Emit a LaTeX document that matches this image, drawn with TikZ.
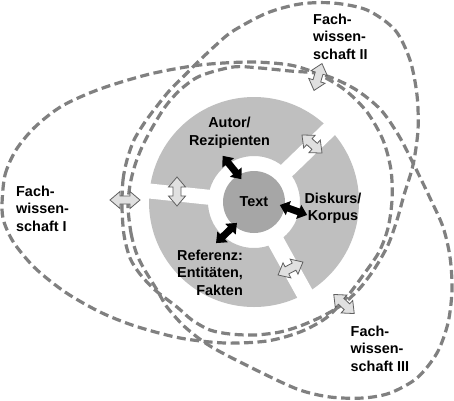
\documentclass[tikz,border=0pt]{standalone}
\usepackage{fontspec}
\setmainfont{Liberation Sans}
\usetikzlibrary{calc}
\definecolor{dashgray}{RGB}{128,128,128}
\definecolor{ringgray}{RGB}{191,191,191}
\definecolor{textgray}{RGB}{166,166,166}
\definecolor{arrowfill}{RGB}{224,224,224}
\definecolor{arrowline}{RGB}{96,96,96}
\tikzset{
  pics/dbl/.style n args={5}{code={%
    \path[#5] (-#1,0) -- ({-#1+#4},#2) -- ({-#1+#4},#3) -- ({#1-#4},#3) -- ({#1-#4},#2) -- (#1,0)
      -- ({#1-#4},-#2) -- ({#1-#4},-#3) -- ({-#1+#4},-#3) -- ({-#1+#4},-#2) -- cycle;}},
}
\begin{document}
\begin{tikzpicture}[x=1pt,y=-1pt,
  fw/.style={draw=dashgray, line width=3.2pt, dash pattern=on 9pt off 4.5pt},
  lbl/.style={font=\fontsize{14.4pt}{17.5pt}\selectfont\bfseries, inner sep=0pt},
  garrow/.style={draw=arrowline, fill=arrowfill, line width=0.8pt, line join=miter},
  barrow/.style={fill=black},
]
\useasboundingbox[fill=white] (0,0) rectangle (454,400);
\coordinate (c) at (254,202);
% ring with three gaps
\fill[ringgray, even odd rule] (c) circle[radius=105pt] (c) circle[radius=46pt];
\draw[white, line width=16pt] ($(c)+(44:40pt)$) -- ($(c)+(44:112pt)$);
\draw[white, line width=15pt] ($(c)+(174:40pt)$) -- ($(c)+(174:112pt)$);
\draw[white, line width=17pt] ($(c)+(-61:40pt)$) -- ($(c)+(-61:112pt)$);
\node[circle, fill=textgray, minimum size=62pt, inner sep=0pt, lbl] (text) at (c) {Text};
% Fachwissenschaft I
\draw[fw] plot[smooth cycle] coordinates {(2,205) (5,175) (16,150) (35,127) (62,106) (100,89) (150,74) (200,65) (250,62) (290,65) (318,74) (345,90) (367,112) (383,140) (391,170) (392,200) (388,228) (379,252) (364,274) (346,298) (326,318) (300,332) (267,341) (225,343) (180,338) (135,326) (100,312) (65,292) (35,268) (14,243) (4,222)};
% Fachwissenschaft II
\draw[fw] plot[smooth cycle] coordinates {(122,207) (123,180) (127,160) (134,140) (145,122) (157,106) (170,90) (185,75) (200,60) (216,45) (233,31) (267,13) (300,4) (333,3) (367,10) (395,30) (410,60) (417,95) (418,130) (413,165) (404,195) (397,220) (388,245) (375,268) (360,288) (343,304) (323,316) (300,326) (280,332) (255,335) (230,334) (210,330) (192,320) (177,307) (155,290) (140,274) (130,258) (124,235)};
% Fachwissenschaft III
\draw[fw] plot[smooth cycle] coordinates {(128,207) (131,233) (136,252) (143,267) (157,290) (167,307) (185,327) (210,346) (250,367) (297,389) (330,397) (363,398) (390,393) (417,378) (437,353) (448,323) (452,290) (450,257) (443,227) (430,198) (414,165) (399,136) (381,110) (358,91) (335,79) (315,73) (290,71) (260,68) (233,67) (200,76) (180,90) (165,107) (152,128) (142,147) (135,165) (130,185)};
% arrows between the fields
\pic (aI) at (125,200) {dbl={15}{8.5}{4}{10}{garrow}};
\pic[rotate=73.5] (aII) at (318,77) {dbl={14}{8.5}{4}{10}{garrow}};
\pic[rotate=-43] (aIII) at (344,304) {dbl={14}{8.5}{4}{10}{garrow}};
% arrows across the ring gaps
\pic[rotate=-42] (g1) at (312,144) {dbl={13.5}{8.5}{4}{10}{garrow}};
\pic[rotate=90] (g2) at (177,191.5) {dbl={14.5}{8.5}{4}{10}{garrow}};
\pic[rotate=27.5] (g3) at (290.5,268.5) {dbl={14}{8.5}{4}{10}{garrow}};
% black arrows to the text
\pic[rotate=-51] (b1) at (232,167.5) {dbl={15}{7.5}{3.5}{9}{barrow}};
\pic[rotate=-20] (b2) at (293.5,210) {dbl={14.5}{7.5}{3.5}{9}{barrow}};
\pic[rotate=44] (b3) at (226.5,233) {dbl={14.5}{7.5}{3.5}{9}{barrow}};
% labels
\node[lbl, align=left, anchor=north west] (fw2) at (313,13.5) {Fach-\\wissen-\\schaft II};
\node[lbl, align=left, anchor=north west] (fw1) at (16,185.5) {Fach-\\wissen-\\schaft I};
\node[lbl, align=left, anchor=north west] (fw3) at (350.5,325.5) {Fach-\\wissen-\\schaft III};
\node[lbl, align=center, anchor=north] (autor) at (229.5,117) {Autor/\\Rezipienten};
\node[lbl, align=center, anchor=north] (diskurs) at (333,192.8) {Diskurs/\\Korpus};
\node[lbl, align=right, anchor=north east] (ref) at (243,249.6) {Referenz:\\Entitäten,\\Fakten};
\end{tikzpicture}
\end{document}
